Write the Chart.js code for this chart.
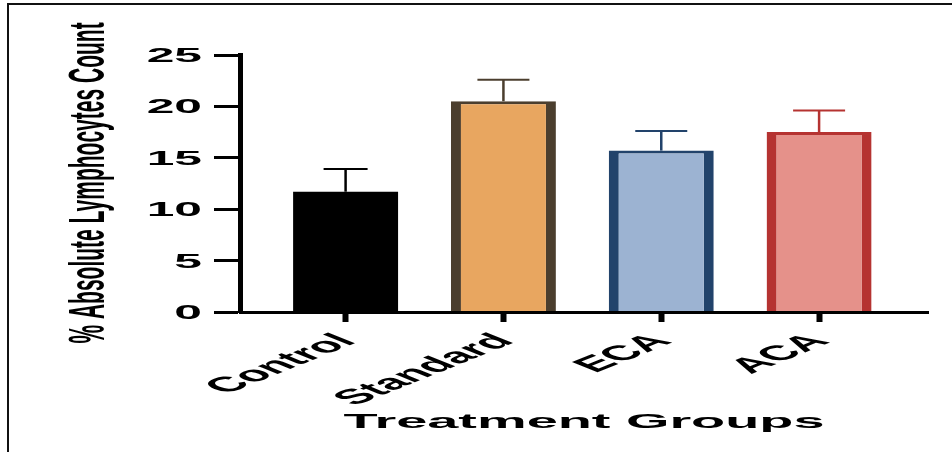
<!DOCTYPE html>
<html>
<head>
<meta charset="utf-8">
<script src="https://cdn.jsdelivr.net/npm/chart.js@4/dist/chart.umd.min.js"></script>
<style>
  body { margin: 0; background: #fff; }
  canvas { display: block; }
</style>
</head>
<body>
<canvas id="lymphChart" width="952" height="452"></canvas>
<script>
// values
var groups = ['Control', 'Standard', 'ECA', 'ACA'];
var means = [11.7, 20.5, 15.7, 17.5];
var errors = [2.2, 2.1, 1.9, 2.1];
var yTicks = [0, 5, 10, 15, 20, 25];

var fills = ['#000000', '#E8A660', '#9CB3D2', '#E5918A'];
var edges = ['#000000', '#4B3E2E', '#22436B', '#B53331'];

var yTitle = '% Absolute Lymphocytes Count';
var xTitle = 'Treatment Groups';

var FONT = '"Liberation Sans", Arial, sans-serif';

// the original figure is stretched sideways, so text is drawn squeezed/stretched
function stretchedText(ctx, text, x, y, opts){
    ctx.save();
    ctx.translate(x, y);
    ctx.scale(opts.sx, 1);
    ctx.rotate(opts.angle || 0);
    ctx.font = opts.font;
    ctx.fillStyle = '#000';
    ctx.textAlign = opts.align || 'left';
    ctx.textBaseline = 'alphabetic';
    ctx.fillText(text, 0, 0);
    ctx.restore();
}

var errorBars = {
    id: 'errorBars',
    afterDatasetsDraw: function(chart){
        var ctx = chart.ctx;
        var yScale = chart.scales.y;
        var meta = chart.getDatasetMeta(0);
        meta.data.forEach(function(bar, i){
            var yTop = yScale.getPixelForValue(means[i] + errors[i]);
            var yBase = yScale.getPixelForValue(means[i]);
            var half = i == 0 ? 22 : 26;
            ctx.save();
            ctx.strokeStyle = edges[i];
            ctx.lineWidth = 2.5;
            ctx.beginPath();
            ctx.moveTo(bar.x, yBase);
            ctx.lineTo(bar.x, yTop);
            ctx.stroke();
            ctx.lineWidth = 2;
            ctx.beginPath();
            ctx.moveTo(bar.x - half, yTop);
            ctx.lineTo(bar.x + half, yTop);
            ctx.stroke();
            ctx.restore();
        });
    }
};

var labelsPlugin = {
    id: 'labels',
    beforeDraw: function(chart){
        var ctx = chart.ctx;
        ctx.save();
        ctx.fillStyle = '#111';
        ctx.fillRect(7, 3, 2, 452);
        ctx.fillRect(7, 3, 952, 2);
        ctx.restore();
    },
    afterDraw: function(chart){
        var ctx = chart.ctx;
        var xScale = chart.scales.x;
        var yScale = chart.scales.y;

        yTicks.forEach(function(v){
            stretchedText(ctx, String(v), 202, yScale.getPixelForValue(v) + 7,
                {font: 'bold 19.5px ' + FONT, sx: 2.55, align: 'right'});
        });

        groups.forEach(function(g, i){
            stretchedText(ctx, g, xScale.getPixelForValue(i) + 12, 342,
                {font: 'bold 21px ' + FONT, sx: 2.5, angle: -45 * Math.PI / 180, align: 'right'});
        });

        stretchedText(ctx, xTitle, (chart.chartArea.left + chart.chartArea.right) / 2, 428,
            {font: 'bold 21px ' + FONT, sx: 2.66, align: 'center'});

        stretchedText(ctx, yTitle, 104, 183,
            {font: 'bold 21px ' + FONT, sx: 2.4, angle: -Math.PI / 2, align: 'center'});
    }
};

var points = [];
for (var i = 0; i < groups.length; i++){
    points.push({x: i, y: means[i]});
}

var edgeWidth = {top: 3, left: 10, right: 10, bottom: 0};

var lymphChart = new Chart(document.getElementById('lymphChart'), {
    type: 'bar',
    data: {
        datasets: [{
            data: points,
            backgroundColor: fills,
            borderColor: edges,
            borderWidth: [0, edgeWidth, edgeWidth, edgeWidth],
            borderSkipped: false,
            categoryPercentage: 1,
            barPercentage: 0.665
        }]
    },
    options: {
        responsive: false,
        animation: false,
        devicePixelRatio: 1,
        layout: { padding: {left: 0, top: 55, right: 24, bottom: 0} },
        plugins: {
            legend: { display: false },
            tooltip: { enabled: false }
        },
        scales: {
            x: {
                type: 'linear',
                min: -0.669,
                max: 3.69,
                offset: false,
                afterFit: function(scale){ scale.height = 140; },
                ticks: { display: false, stepSize: 1, includeBounds: false },
                grid: { offset: false, drawOnChartArea: false, drawTicks: true, tickLength: 10, tickWidth: 6, tickColor: '#000' },
                border: { display: true, color: '#000', width: 3, z: 1 }
            },
            y: {
                min: 0,
                max: 25,
                afterFit: function(scale){ scale.width = 240; },
                ticks: { display: false, stepSize: 5 },
                grid: { drawOnChartArea: false, drawTicks: true, tickLength: 26, tickWidth: 3, tickColor: '#000' },
                border: { display: true, color: '#000', width: 5, z: 1 }
            }
        }
    },
    plugins: [errorBars, labelsPlugin]
});
</script>
</body>
</html>
